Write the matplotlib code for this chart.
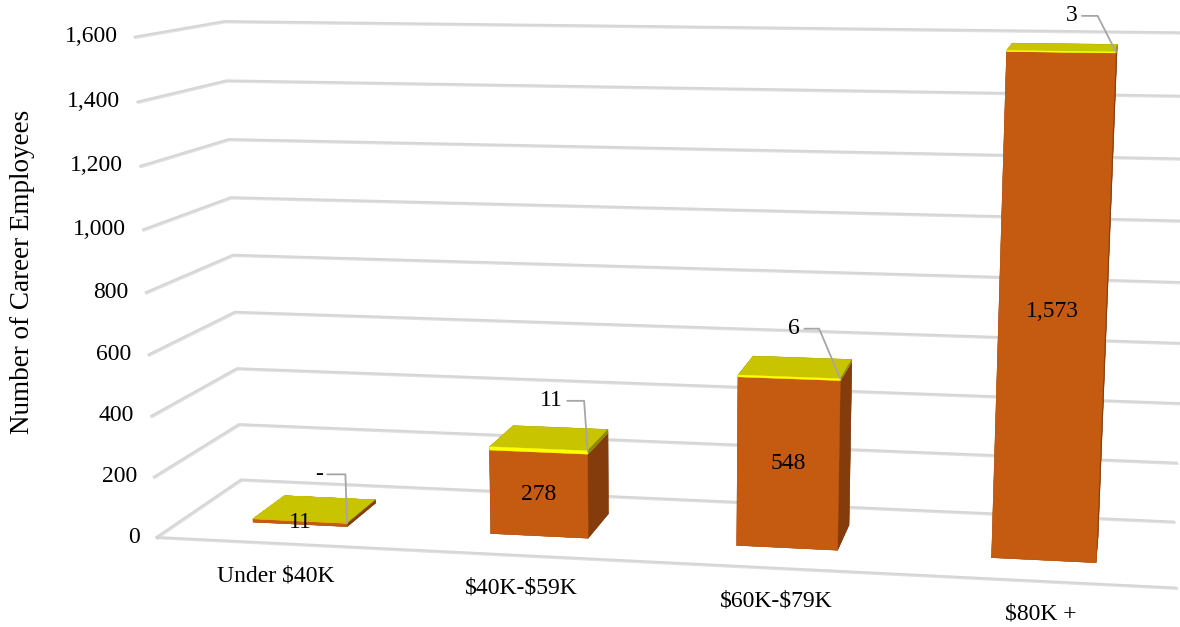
import numpy as np
import matplotlib.pyplot as plt
from matplotlib import patheffects
from mpl_toolkits.mplot3d import proj3d

# career employees by salary band, two stacked series
categories = ['Under $40K', '$40K-$59K', '$60K-$79K', '$80K +']
lower_counts = [11, 278, 548, 1573]
upper_counts = [0, 11, 6, 3]
upper_labels = ['-', '11', '6', '3']
y_ticks = [0, 200, 400, 600, 800, 1000, 1200, 1400, 1600]

# where each callout label sits relative to its bar corner (px) and leader angle
callouts = [(-28, 49, 92), (-36, 50, 94), (-46, 50, 113), (-44, 36, 117)]

plt.rcParams['font.family'] = ['Liberation Serif', 'DejaVu Serif']
plt.rcParams['font.size'] = 17

GRID = '#d6d6d6'
LEADER = '#a6a6a6'
ORANGE_FRONT, ORANGE_SIDE = '#c55a11', '#843c0c'
YELLOW_FRONT, YELLOW_TOP, YELLOW_SIDE = '#ffff00', '#c8c400', '#8a8700'

W, H = 1180, 627
fig = plt.figure(figsize=(W / 100, H / 100), dpi=100)

# camera set-up: one world unit is one category step, values are divided by UNIT
UNIT = 808.0
ELEV, AZIM = 12.7, -79.4
cam = np.array([3.296, -9.449, 2.640])
focal_px = 2582.0
center_px = (655.0, 185.0)   # view axis on the canvas, from bottom-left

e, a = np.radians(ELEV), np.radians(AZIM)
look = -np.array([np.cos(e) * np.cos(a), np.cos(e) * np.sin(a), np.sin(e)])
dist = 10.2
target = cam + dist * look
half = 2.0

ax = fig.add_axes([0, 0, 1, 1], projection='3d', computed_zorder=False)
ax.set_xlim(target[0] - half, target[0] + half)
ax.set_ylim(target[1] - half, target[1] + half)
ax.set_zlim((target[2] - half) * UNIT, (target[2] + half) * UNIT)
ax.set_box_aspect((1, 1, 1))
ax.view_init(elev=ELEV, azim=AZIM, roll=0)
scale = ax._box_aspect[0] / (2 * half)
f = scale * dist / getattr(ax, '_dist', 10)
ax.set_proj_type('persp', focal_length=f)
ax.set_axis_off()

# size the (square) axes so the lens gives focal_px on the canvas
px = focal_px / f
vx0, vx1 = ax.viewLim.intervalx
vy0, vy1 = ax.viewLim.intervaly
ax.set_position([(center_px[0] + vx0 * px) / W, (center_px[1] + vy0 * px) / H,
                 (vx1 - vx0) * px / W, (vy1 - vy0) * px / H])

n = len(categories)
x0, x1 = -0.5, n - 0.5
grid_fx = [patheffects.SimpleLineShadow(offset=(0.6, -0.9), shadow_color='k', alpha=0.12),
           patheffects.Normal()]

# side wall + back wall gridlines, and the front edge of the floor
for t in y_ticks:
    ax.plot([x0, x0, x1], [0, 1, 1], [t, t, t], color=GRID, lw=1.5,
            zorder=1, path_effects=grid_fx)
ax.plot([x0, x1], [0, 0], [0, 0], color=GRID, lw=1.5, zorder=1, path_effects=grid_fx)

bw, bd = 0.4, 0.4
y_front = 0.5 - bd / 2
xs = np.arange(n) - bw / 2

# face order in bar3d: bottom, top, front, back, left, right
lower_faces = [ORANGE_SIDE, YELLOW_TOP, ORANGE_FRONT, ORANGE_SIDE, ORANGE_SIDE, ORANGE_SIDE]
upper_faces = [YELLOW_TOP, YELLOW_TOP, YELLOW_FRONT, YELLOW_SIDE, YELLOW_SIDE, YELLOW_SIDE]
colors = lower_faces * n + upper_faces * n

bx = np.concatenate([xs, xs])
by = np.full(2 * n, y_front)
bz = np.concatenate([np.zeros(n), lower_counts])
bdz = np.concatenate([lower_counts, upper_counts])
ax.bar3d(bx, by, bz, bw, bd, bdz, color=colors, shade=False,
         edgecolor=colors, linewidth=0.3, zorder=2)

M = ax.get_proj()


def put(x, y, z, s, dx=0, dy=0, **kw):
    X, Y, _ = proj3d.proj_transform(x, y, z, M)
    return ax.annotate(s, (X, Y), xytext=(dx, dy), textcoords='offset pixels',
                       annotation_clip=False, parse_math=False, zorder=5, **kw)


for t in y_ticks:
    put(x0, 0, t, f'{t:,}', dx=-17, ha='right', va='center')

for i in range(n):
    put(i, 0, 0, categories[i], dy=-33, ha='center', va='center')
    put(i, y_front, lower_counts[i] / 2, f'{lower_counts[i]:,}', ha='center', va='center')
    top = lower_counts[i] + upper_counts[i]
    dx, dy, ang = callouts[i]
    put(i + bw / 2, y_front, top, upper_labels[i], dx=dx, dy=dy,
        ha='center', va='center',
        arrowprops=dict(arrowstyle='-', color=LEADER, lw=1.3, shrinkA=1, shrinkB=0,
                        connectionstyle=f'angle,angleA=0,angleB={ang},rad=0'))

fig.text(0.019, 0.566, 'Number of Career Employees', rotation=90,
         ha='center', va='center', fontsize=19.5)

fig.savefig('out.png', dpi=100)
